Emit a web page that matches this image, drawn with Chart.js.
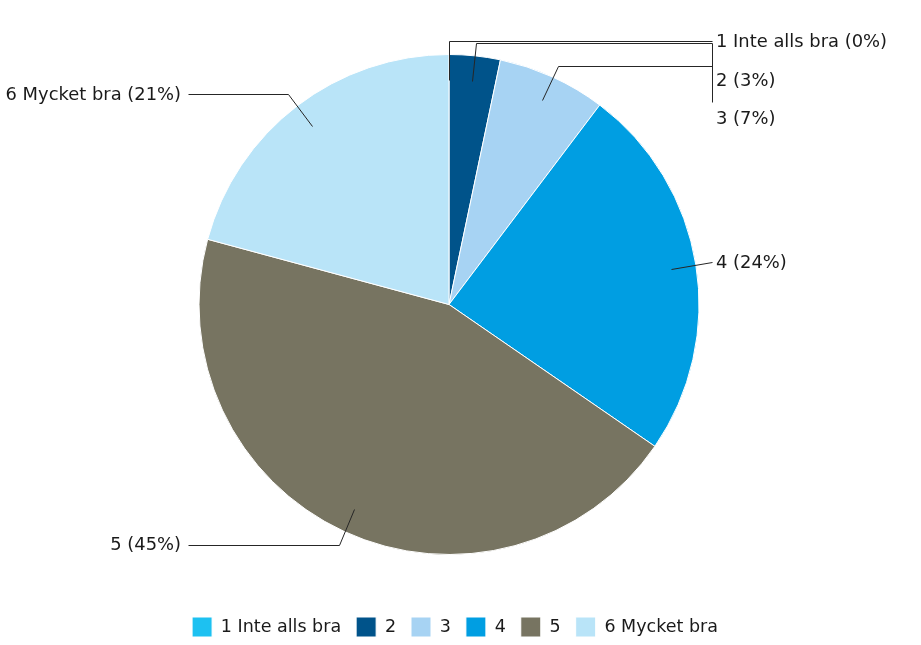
<!DOCTYPE html>
<html><head><meta charset="utf-8">
<script src="https://cdn.jsdelivr.net/npm/chart.js@4/dist/chart.umd.min.js"></script>
<style>html,body{margin:0;padding:0;background:#fff}#wrap{width:921px;height:645px}</style>
</head><body><div id="wrap"><canvas id="c" width="921" height="645"></canvas></div>
<script>
const categories = ['1 Inte alls bra', '2', '3', '4', '5', '6 Mycket bra'];
const values = [0, 3.3, 7.0, 24.3, 44.6, 20.8];
const percentLabels = ['0%', '3%', '7%', '24%', '45%', '21%'];
const colors = ['#1DC1F1', '#00538A', '#A7D3F3', '#009EE2', '#777461', '#B9E4F8'];

const labelLayout = [
  {side:'r', ty:42, path:(a)=>[[a.x,a.y],[a.x,41],[712,41]]},
  {side:'r', ty:81, path:(a)=>[[a.x,a.y],[a.x+4,43],[712,43],[712,81]]},
  {side:'r', ty:119, path:(a)=>[[a.x,a.y],[a.x+16,66],[712,66],[712,102]]},
  {side:'r', ty:263, path:(a)=>[[a.x,a.y],[712,262]]},
  {side:'l', ty:545, path:(a)=>[[a.x,a.y],[a.x-15,545],[188,545]]},
  {side:'l', ty:95, path:(a)=>[[a.x,a.y],[a.x-24,94],[188,94]]}
];

const FAMILY = '"DejaVu Sans", Verdana, sans-serif';
const FSIZE = 17.5;
const FONT = '17.9px ' + FAMILY;

const leaderPlugin = {
  id:'leaders',
  afterLayout(chart){
    if (chart.legend){ chart.legend.left += 6; chart.legend.right += 6; }
  },
  afterDatasetsDraw(chart){
    const ctx = chart.ctx;
    const meta = chart.getDatasetMeta(0);
    ctx.save();
    ctx.font = FONT;
    ctx.textBaseline = 'middle';
    meta.data.forEach((arc, i) => {
      const p = arc.getProps(['x','y','startAngle','endAngle','outerRadius'], true);
      const mid = (p.startAngle + p.endAngle)/2;
      const r = p.outerRadius*0.9;
      const a = {x: p.x + Math.cos(mid)*r, y: p.y + Math.sin(mid)*r};
      const L = labelLayout[i];
      const pts = L.path(a);
      ctx.strokeStyle = '#262626';
      ctx.lineWidth = 1;
      ctx.beginPath();
      pts.forEach((q,k)=>{ const x=Math.round(q[0])+0.5, y=Math.round(q[1])+0.5; if(k===0) ctx.moveTo(x,y); else ctx.lineTo(x,y); });
      ctx.stroke();
      ctx.fillStyle = '#1a1a1a';
      const txt = categories[i] + ' (' + percentLabels[i] + ')';
      if (L.side==='r'){ ctx.textAlign='left'; ctx.fillText(txt, 716, L.ty); }
      else { ctx.textAlign='right'; ctx.fillText(txt, 181, L.ty); }
    });
    ctx.restore();
  }
};

new Chart(document.getElementById('c'), {
  type:'pie',
  data:{ labels:categories, datasets:[{ data:values, backgroundColor:colors, borderColor:'#ffffff', borderWidth:1, radius:250 }]},
  options:{
    responsive:false, animation:false,
    layout:{ padding:{ left:0, right:23, top:7, bottom:-2 } },
    plugins:{
      tooltip:{enabled:false},
      legend:{ position:'bottom',
        labels:{ boxWidth:20, boxHeight:20, padding:15, color:'#1a1a1a',
          font:{ family:FAMILY, size:FSIZE } } }
    }
  },
  plugins:[leaderPlugin]
});
</script></body></html>
